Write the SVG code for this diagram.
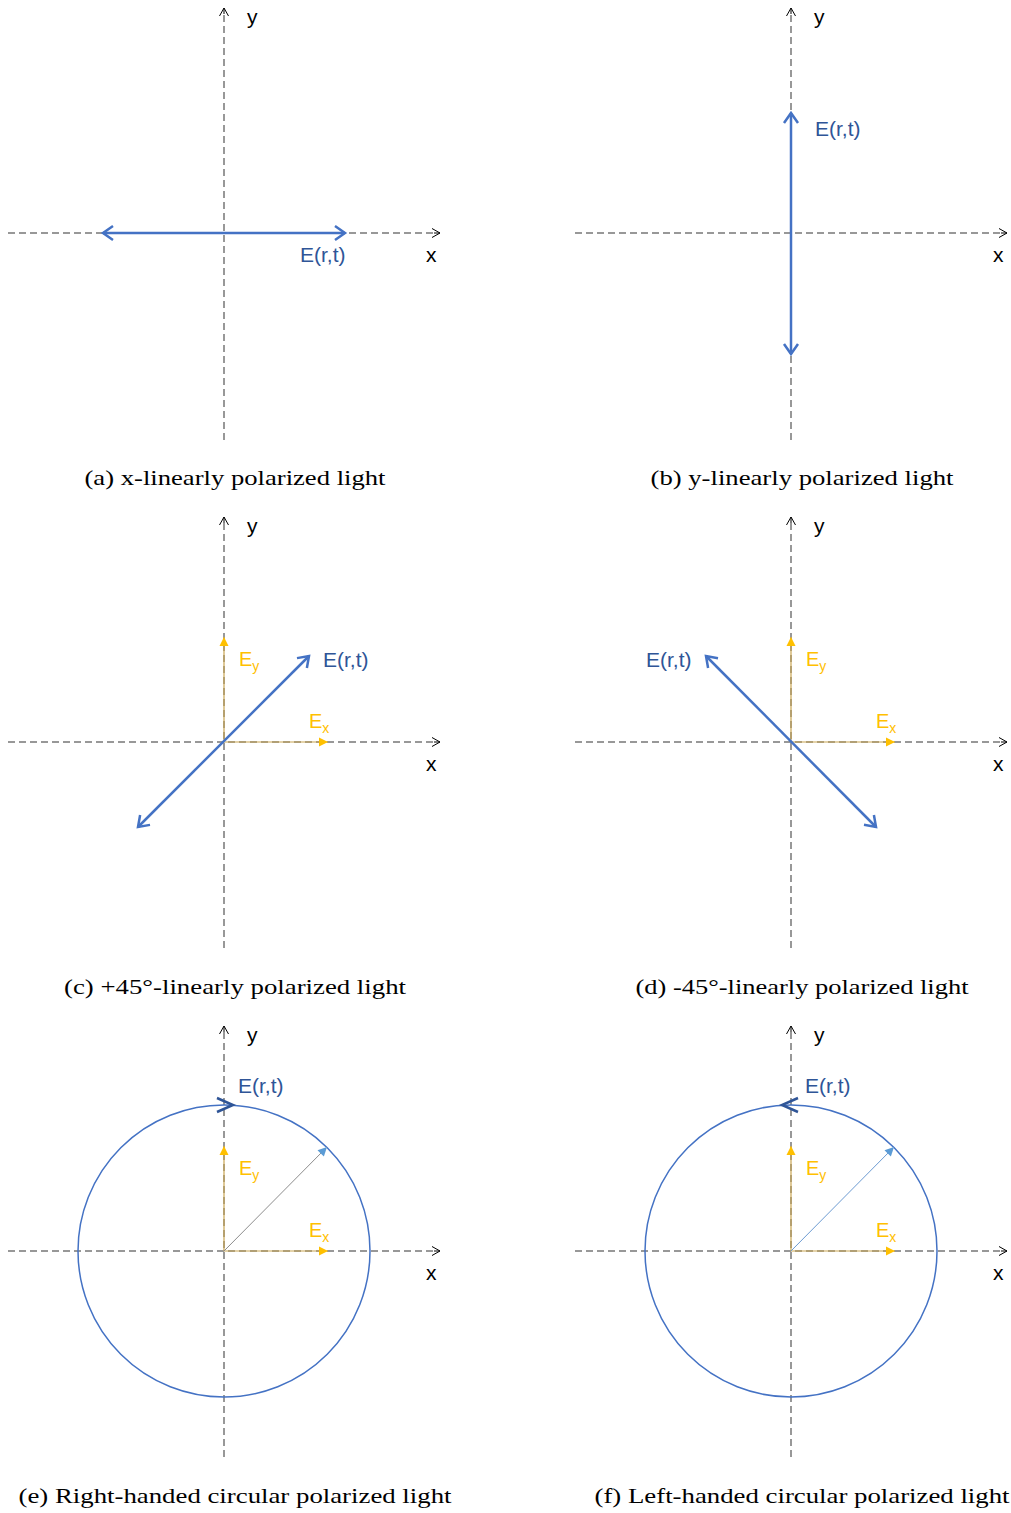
<svg xmlns="http://www.w3.org/2000/svg" width="1011" height="1513" viewBox="0 0 1011 1513">
<defs>
<marker id="axh" markerUnits="userSpaceOnUse" markerWidth="20" markerHeight="20" viewBox="-10 -10 20 20" refX="0" refY="0" orient="auto">
<path d="M-8,-4.5 L0,0 L-8,4.5" fill="none" stroke="#000" stroke-width="1"/>
</marker>
<marker id="eh" markerUnits="userSpaceOnUse" markerWidth="30" markerHeight="30" viewBox="-15 -15 30 30" refX="0" refY="0" orient="auto-start-reverse">
<path d="M-10,-7 L0,0 L-10,7" fill="none" stroke="#4472C4" stroke-width="2.5" stroke-linejoin="miter"/>
</marker>
<marker id="gh" markerUnits="userSpaceOnUse" markerWidth="20" markerHeight="20" viewBox="-10 -10 20 20" refX="0" refY="0" orient="auto">
<path d="M-9,-4.5 L0,0 L-9,4.5 Z" fill="#FFC000"/>
</marker>
<marker id="bh" markerUnits="userSpaceOnUse" markerWidth="20" markerHeight="20" viewBox="-10 -10 20 20" refX="0" refY="0" orient="auto">
<path d="M-9,-4.5 L0,0 L-9,4.5 Z" fill="#5B9BD5"/>
</marker>
</defs>
<style>
.ax{stroke:#777;stroke-width:1.5;stroke-dasharray:7,4;fill:none}
.axd{stroke:#333;stroke-width:1.1;stroke-dasharray:7,4;fill:none}
.axt{stroke:#000;stroke-width:1;fill:none}
.e{stroke:#4472C4;stroke-width:2.5;fill:none}
.g{stroke:#C9A552;stroke-width:1.2;fill:none}
.lab{font-family:"Liberation Sans",Arial,sans-serif;font-size:21px;fill:#000}
.el{font-family:"Liberation Sans",Arial,sans-serif;font-size:21px;fill:#2F5597}
.gl{font-family:"Liberation Sans",Arial,sans-serif;font-size:20px;fill:#FFC000}
.sub{font-size:14px}
.cap{font-family:"Liberation Serif","Times New Roman",serif;font-size:22px;fill:#000}
.circ{stroke:#4472C4;stroke-width:1.5;fill:none}
.chev{stroke:#2F5597;stroke-width:2.5;fill:none}
</style>

<g id="connectors">
<!-- (a) -->
<line class="ax" x1="224" y1="440" x2="224" y2="12"/>
<line class="axt" x1="224" y1="14" x2="224" y2="8" marker-end="url(#axh)"/>
<line class="axd" x1="8" y1="233" x2="436" y2="233"/>
<line class="axt" x1="434" y1="233" x2="440" y2="233" marker-end="url(#axh)"/>
<line class="e" x1="103" y1="233" x2="345" y2="233" marker-start="url(#eh)" marker-end="url(#eh)"/>
<!-- (b) -->
<line class="ax" x1="791" y1="440" x2="791" y2="12"/>
<line class="axt" x1="791" y1="14" x2="791" y2="8" marker-end="url(#axh)"/>
<line class="ax" x1="575" y1="233" x2="1003" y2="233"/>
<line class="axt" x1="1001" y1="233" x2="1007" y2="233" marker-end="url(#axh)"/>
<line class="e" x1="791" y1="113" x2="791" y2="354" marker-start="url(#eh)" marker-end="url(#eh)"/>
<!-- (c) -->
<line class="ax" x1="224" y1="948" x2="224" y2="521"/>
<line class="axt" x1="224" y1="523" x2="224" y2="517" marker-end="url(#axh)"/>
<line class="ax" x1="8" y1="742" x2="436" y2="742"/>
<line class="axt" x1="434" y1="742" x2="440" y2="742" marker-end="url(#axh)"/>
<line class="g" x1="224" y1="742" x2="328" y2="742" marker-end="url(#gh)"/>
<line class="g" x1="224" y1="742" x2="224" y2="637" marker-end="url(#gh)"/>
<line class="e" x1="138" y1="827" x2="309" y2="656" marker-start="url(#eh)" marker-end="url(#eh)"/>
<!-- (d) -->
<line class="ax" x1="791" y1="948" x2="791" y2="521"/>
<line class="axt" x1="791" y1="523" x2="791" y2="517" marker-end="url(#axh)"/>
<line class="ax" x1="575" y1="742" x2="1003" y2="742"/>
<line class="axt" x1="1001" y1="742" x2="1007" y2="742" marker-end="url(#axh)"/>
<line class="g" x1="791" y1="742" x2="895" y2="742" marker-end="url(#gh)"/>
<line class="g" x1="791" y1="742" x2="791" y2="637" marker-end="url(#gh)"/>
<line class="e" x1="876" y1="827" x2="706" y2="656" marker-start="url(#eh)" marker-end="url(#eh)"/>
<!-- (e) -->
<line class="ax" x1="224" y1="1457" x2="224" y2="1030"/>
<line class="axt" x1="224" y1="1032" x2="224" y2="1026" marker-end="url(#axh)"/>
<line class="ax" x1="8" y1="1251" x2="436" y2="1251"/>
<line class="axt" x1="434" y1="1251" x2="440" y2="1251" marker-end="url(#axh)"/>
<circle class="circ" cx="224" cy="1251" r="146"/>
<path class="chev" d="M217,1098 L233,1105 L217,1112"/>
<line class="g" x1="224" y1="1251" x2="328" y2="1251" marker-end="url(#gh)"/>
<line class="g" x1="224" y1="1251" x2="224" y2="1146" marker-end="url(#gh)"/>
<line x1="224" y1="1251" x2="327" y2="1147" stroke="#8C8C8C" stroke-width="1" marker-end="url(#bh)"/>
<!-- (f) -->
<line class="ax" x1="791" y1="1457" x2="791" y2="1030"/>
<line class="axt" x1="791" y1="1032" x2="791" y2="1026" marker-end="url(#axh)"/>
<line class="ax" x1="575" y1="1251" x2="1003" y2="1251"/>
<line class="axt" x1="1001" y1="1251" x2="1007" y2="1251" marker-end="url(#axh)"/>
<circle class="circ" cx="791" cy="1251" r="146"/>
<path class="chev" d="M798,1098 L782,1105 L798,1112"/>
<line class="g" x1="791" y1="1251" x2="895" y2="1251" marker-end="url(#gh)"/>
<line class="g" x1="791" y1="1251" x2="791" y2="1146" marker-end="url(#gh)"/>
<line x1="791" y1="1251" x2="894" y2="1147" stroke="#6C9BD2" stroke-width="1" marker-end="url(#bh)"/>
</g>

<g id="panel-a">
<text class="lab" x="247" y="24">y</text>
<text class="lab" x="426" y="262">x</text>
<text class="el" x="300" y="262">E(r,t)</text>
<text class="cap" x="235" y="485" text-anchor="middle" textLength="301" lengthAdjust="spacingAndGlyphs">(a) x-linearly polarized light</text>
</g>
<g id="panel-b">
<text class="lab" x="814" y="24">y</text>
<text class="lab" x="993" y="262">x</text>
<text class="el" x="815" y="136">E(r,t)</text>
<text class="cap" x="802" y="485" text-anchor="middle" textLength="303" lengthAdjust="spacingAndGlyphs">(b) y-linearly polarized light</text>
</g>
<g id="panel-c">
<text class="lab" x="247" y="533">y</text>
<text class="lab" x="426" y="771">x</text>
<text class="el" x="323" y="667">E(r,t)</text>
<text class="gl" x="239" y="666">E<tspan class="sub" dy="5">y</tspan></text>
<text class="gl" x="309" y="728">E<tspan class="sub" dy="5">x</tspan></text>
<text class="cap" x="235" y="994" text-anchor="middle" textLength="342" lengthAdjust="spacingAndGlyphs">(c) +45°-linearly polarized light</text>
</g>
<g id="panel-d">
<text class="lab" x="814" y="533">y</text>
<text class="lab" x="993" y="771">x</text>
<text class="el" x="646" y="667">E(r,t)</text>
<text class="gl" x="806" y="666">E<tspan class="sub" dy="5">y</tspan></text>
<text class="gl" x="876" y="728">E<tspan class="sub" dy="5">x</tspan></text>
<text class="cap" x="802" y="994" text-anchor="middle" textLength="333" lengthAdjust="spacingAndGlyphs">(d) -45°-linearly polarized light</text>
</g>
<g id="panel-e">
<text class="lab" x="247" y="1042">y</text>
<text class="lab" x="426" y="1280">x</text>
<text class="el" x="238" y="1093">E(r,t)</text>
<text class="gl" x="239" y="1175">E<tspan class="sub" dy="5">y</tspan></text>
<text class="gl" x="309" y="1237">E<tspan class="sub" dy="5">x</tspan></text>
<text class="cap" x="235" y="1503" text-anchor="middle" textLength="433" lengthAdjust="spacingAndGlyphs">(e) Right-handed circular polarized light</text>
</g>
<g id="panel-f">
<text class="lab" x="814" y="1042">y</text>
<text class="lab" x="993" y="1280">x</text>
<text class="el" x="805" y="1093">E(r,t)</text>
<text class="gl" x="806" y="1175">E<tspan class="sub" dy="5">y</tspan></text>
<text class="gl" x="876" y="1237">E<tspan class="sub" dy="5">x</tspan></text>
<text class="cap" x="802" y="1503" text-anchor="middle" textLength="415" lengthAdjust="spacingAndGlyphs">(f) Left-handed circular polarized light</text>
</g>
</svg>
